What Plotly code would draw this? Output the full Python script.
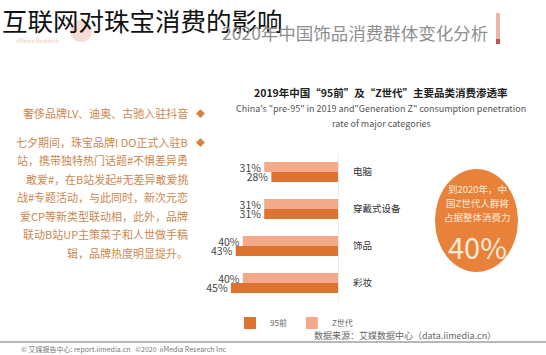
import plotly.graph_objects as go

W, H = 546, 355
FONT = "Noto Sans CJK SC"

# ---- data ----
categories = ["电脑", "穿戴式设备", "饰品", "彩妆"]
gen_z = [31, 31, 40, 40]
pre95 = [28, 31, 43, 45]
series_names = ["Z世代", "95前"]

title_text = "互联网对珠宝消费的影响"
header_text = "2020年中国饰品消费群体变化分析"
chart_title = "2019年中国“95前”及“Z世代”主要品类消费渗透率"
chart_sub1 = "China's \"pre-95\" in 2019 and\"Generation Z\" consumption penetration"
chart_sub2 = "rate of major categories"
bullet1 = ["奢侈品牌LV、迪奥、古驰入驻抖音"]
bullet2 = [
    "七夕期间，珠宝品牌I DO正式入驻B",
    "站，携带独特热门话题#不惧差异勇",
    "敢爱#，在B站发起#无差异敢爱挑",
    "战#专题活动，与此同时，新次元恋",
    "爱CP等新类型联动相，此外，品牌",
    "联动B站UP主策菜子和人世做手稿",
    "辑，品牌热度明显提升。",
]
circle_lines = ["到2020年，中", "国Z世代人群将", "占据整体消费力"]
circle_value = "40%"
source_text = "数据来源：艾媒数据中心（data.iimedia.cn）"
footer_text = "© 艾媒报告中心: report.iimedia.cn   ©2020  iiMedia Research Inc"


def px(x):
    return x / W


def py(y):
    return 1 - y / H


fig = go.Figure()
fig.add_bar(
    y=categories, x=gen_z, name=series_names[0], orientation="h",
    marker=dict(color="#F4A98A", line=dict(width=0)),
    text=[f"{v}%" for v in gen_z], textposition="outside", textangle=0,
    constraintext="none", cliponaxis=False,
    textfont=dict(size=10.5, color="#444444", family=FONT),
)
fig.add_bar(
    y=categories, x=pre95, name=series_names[1], orientation="h",
    marker=dict(color="#DC7331", line=dict(width=0)),
    text=[f"{v}%" for v in pre95], textposition="outside", textangle=0,
    constraintext="none", cliponaxis=False,
    textfont=dict(size=10.5, color="#444444", family=FONT),
)

ann = []


def note(x, y, text, size, color, xanchor="center"):
    ann.append(dict(x=px(x), y=py(y), xref="paper", yref="paper", text=text,
                    showarrow=False, xanchor=xanchor, yanchor="middle",
                    font=dict(size=size, color=color, family=FONT)))


# page title
note(0, 19, title_text, 25.5, "#111111", "left")
# faded header at right
note(490, 33, header_text, 17.5, "#8f8f8f", "right")
# faint watermark
note(14, 41, "iiMedia Research", 5.5, "#efc9c2", "left")
# chart titles
note(381, 92, "<b>" + chart_title + "</b>", 10.5, "#222222")
note(381, 108, chart_sub1, 9, "#555555")
note(381, 123, chart_sub2, 9, "#555555")
# left bullet text
text_color = "#CC8850"
ys_b1 = [113]
ys_b2 = [142, 160, 179, 197, 216, 234, 253]
for yy, line in zip(ys_b1, bullet1):
    note(190, yy, line, 11, text_color, "right")
for yy, line in zip(ys_b2, bullet2):
    note(190, yy, line, 11, text_color, "right")
for yy in (113, 142):
    note(200, yy, "◆", 9, "#D9823F")
# circle text
for yy, line in zip([189, 203, 217], circle_lines):
    note(477, yy, line, 9.5, "#FCE9D6")
note(477, 246, circle_value, 29, "#FCE9D6")
# source & footer
note(498, 335, source_text, 9, "#666666", "right")
note(228, 349, footer_text, 7, "#777777", "right")

shapes = [
    dict(type="circle", xref="paper", yref="paper",
         x0=px(435), x1=px(518), y0=py(272), y1=py(169),
         fillcolor="#E8823B", line=dict(width=0), layer="below"),
    dict(type="circle", xref="paper", yref="paper",
         x0=px(70), x1=px(92), y0=py(42), y1=py(20),
         fillcolor="#F7DCD6", line=dict(width=0), layer="below"),
    dict(type="rect", xref="paper", yref="paper",
         x0=px(496), x1=px(500), y0=py(41), y1=py(13),
         fillcolor="#EDB4A9", line=dict(width=0), layer="below"),
    dict(type="rect", xref="paper", yref="paper",
         x0=px(496), x1=px(500), y0=py(44), y1=py(39),
         fillcolor="#C2524A", line=dict(width=0), layer="below"),
    dict(type="line", xref="paper", yref="paper",
         x0=0, x1=1, y0=py(342), y1=py(342),
         line=dict(color="#B8B8B8", width=2)),
]

fig.update_layout(
    width=W, height=H,
    margin=dict(l=0, r=0, t=0, b=0),
    paper_bgcolor="white", plot_bgcolor="white",
    barmode="group", bargap=0.46, bargroupgap=0,
    font=dict(family=FONT),
    showlegend=True,
    legend=dict(orientation="h", x=px(230), y=py(323), xanchor="left", yanchor="middle",
                traceorder="reversed", font=dict(size=8, color="#666666", family=FONT),
                itemwidth=30, tracegroupgap=0, bgcolor="rgba(0,0,0,0)"),
    xaxis=dict(domain=[px(219), px(338)], range=[50, 0], showgrid=False,
               zeroline=False, showticklabels=False, ticks="", fixedrange=True),
    yaxis=dict(domain=[py(301.5), py(153.5)], autorange="reversed", side="right",
               showgrid=False, zeroline=False, showline=True, linecolor="#ECECEC",
               linewidth=1, ticks="", ticklabelstandoff=12,
               tickfont=dict(size=9.5, color="#333333", family=FONT)),
    annotations=ann,
    shapes=shapes,
)

fig.write_html("out.html")
